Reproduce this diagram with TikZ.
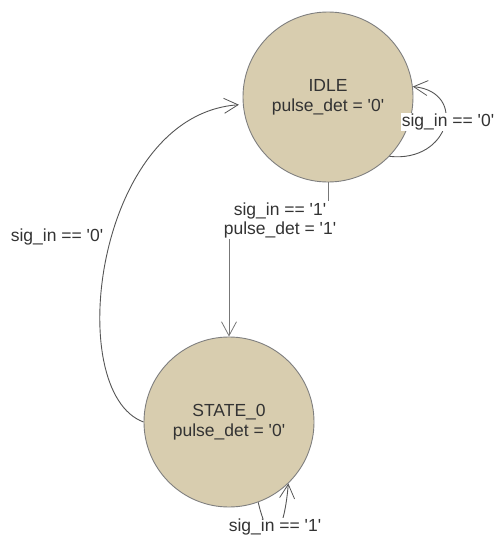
\documentclass[tikz,border=0pt]{standalone}
\usepackage{fontspec}
\newfontfamily\labfont{Liberation Sans}
\usetikzlibrary{arrows.meta}
\definecolor{statefill}{HTML}{D8CDAF}
\definecolor{stateline}{HTML}{7F7F7F}
\definecolor{edgeline}{HTML}{555555}
\definecolor{straightline}{HTML}{777777}
\definecolor{txt}{HTML}{333333}
\tikzset{
  state/.style={circle, draw=stateline, fill=statefill, line width=0.9pt,
    minimum size=170pt, inner sep=0pt, align=center, text=txt,
    font=\labfont\fontsize{17.5}{20}\selectfont},
  edge/.style={draw=edgeline, line width=0.9pt,
    -{Straight Barb[length=14pt,width=15pt,line width=0.8pt]}},
  lbl/.style={text=txt, align=center, inner sep=1pt,
    font=\labfont\fontsize{17.5}{19}\selectfont},
  lblbg/.style={lbl, fill=white}
}
\begin{document}
\begin{tikzpicture}[x=1pt, y=-1pt]
  \useasboundingbox (0,0) rectangle (496,536);

  % states
  \node[state] (idle) at (328,97) {IDLE\\pulse\_det = '0'};
  \node[state] (s0) at (229,422) {STATE\_0\\pulse\_det = '0'};

  % IDLE -> STATE_0
  \coordinate (bend) at (328,220);
  \draw[edge, draw=straightline] (idle.south) -- (bend) -| (s0.north);
  \node[lblbg] (l10) at (280,220) {sig\_in == '1'\\pulse\_det = '1'};

  % STATE_0 -> IDLE
  \draw[edge, shorten >=4pt] (s0.west) .. controls (62,392) and (95,115) .. (idle.185);
  \node[lbl] (l01) at (57,237) {sig\_in == '0'};

  % IDLE self loop
  \draw[edge] (idle.-44) .. controls (450,163) and (468,92) .. (idle.7);
  \node[lblbg] (l00) at (448,122) {sig\_in == '0'};

  % STATE_0 self loop
  \draw[edge] (s0.-70) .. controls (268,545) and (283,545) .. (s0.-46);
  \node[lblbg] (l11) at (275,527) {sig\_in == '1'};
\end{tikzpicture}
\end{document}
